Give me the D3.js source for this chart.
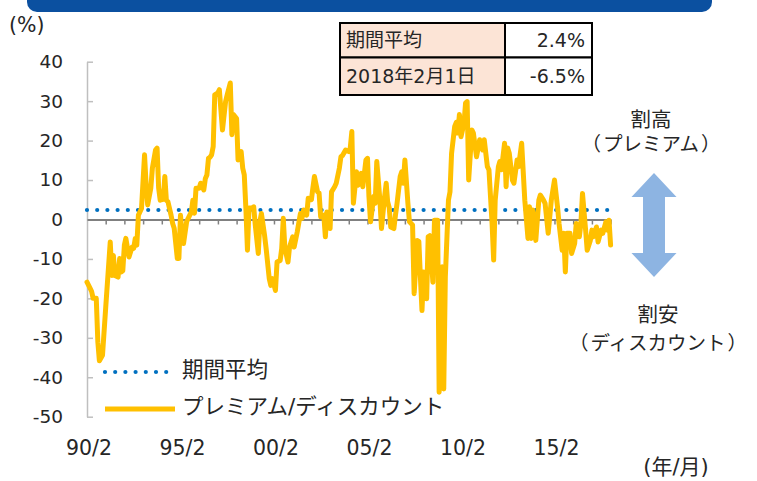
<!DOCTYPE html>
<html><head><meta charset="utf-8">
<script src="https://cdn.jsdelivr.net/npm/d3@7"></script>
<style>
body{margin:0;background:#fff}
svg{display:block}
text{font-family:"DejaVu Sans","Noto Sans CJK JP",sans-serif;fill:#262626}
</style>
</head><body><div id="chart"></div>
<script>
// months elapsed since Feb 1990 for each vertex
const monthOffsets = [
0,2,3,4,6,7,8,10,12,15,
16,17,18,20,21,22,23,24,25,27,
29,30,31,32,33,35,37,38,39,41,
42,44,45,46,47,49,50,51,52,54,
55,56,58,59,60,61,62,64,65,67,
68,69,70,72,73,75,76,77,78,79,
80,81,82,84,85,87,89,90,92,93,
94,96,97,99,100,101,102,103,104,106,
107,108,110,111,112,114,115,117,118,119,
121,122,124,125,126,127,129,130,132,133,
135,137,138,139,141,142,144,145,146,148,
149,150,152,153,154,156,157,159,160,162,
163,164,166,168,169,170,171,173,174,176,
177,179,180,181,182,184,185,186,188,189,
191,192,193,194,195,197,198,199,201,202,
203,204,206,207,209,210,212,213,214,215,
216,218,219,220,222,223,225,226,228,229,
230,232,233,234,236,237,238,239,240,242,
243,244,245,247,248,250,252,254,255,257,
258,260,261,262,264,265,266,268,269,270,
271,273,274,276,277,279,281,283,284,285,
286,288,290,291,293,294,296,298,300,302,
303,305,306,307,308,310,311,313,314,316,
317,318,320,321,323,324,325,327,328,330,
331,333,334,335,336];
// premium / discount (%)
const premium = [
-15.9,-17.4,-18.2,-20.0,-20.0,-31.1,-35.8,-34.4,-22.4,-5.7,
-14.2,-9.1,-14.2,-14.6,-9.9,-13.3,-13.0,-6.5,-4.8,-9.5,
-7.0,-7.3,-4.8,-6.5,1.1,2.8,16.4,8.7,3.7,7.9,
13.0,17.6,18.1,8.0,4.9,5.1,10.9,4.9,4.5,1.1,
-1.0,-2.2,-9.9,-9.9,1.1,-3.1,-6.1,-0.6,0.3,1.9,
4.9,1.6,7.9,7.9,9.2,7.5,10.4,11.3,15.5,15.8,
16.4,18.5,31.6,32.1,32.9,22.7,29.9,31.6,34.6,21.5,
26.6,25.6,15.1,17.2,13.0,11.3,2.9,-7.8,2.9,2.9,
3.2,-1.4,-8.6,-0.6,1.5,-4.0,-7.4,-15.0,-16.7,-15.0,
-18.0,-10.8,-10.4,-7.4,0.3,-7.3,-10.8,-7.0,-4.4,-7.0,
-3.1,1.5,0.3,2.4,1.1,5.4,5.0,7.9,10.9,7.0,
6.7,0.7,1.1,-4.4,1.9,-2.3,7.0,8.3,9.2,13.0,
15.9,16.2,17.6,17.2,18.1,22.3,4.1,12.1,8.7,11.7,
8.3,15.1,15.5,5.8,-0.6,5.8,4.1,14.7,4.9,-2.3,
5.8,9.2,4.5,3.0,-1.9,-2.3,1.1,4.1,10.9,12.1,
9.2,15.1,4.1,-0.6,-1.4,-18.8,-5.3,-5.6,-14.6,-23.1,
-13.3,-20.1,-4.4,-4.1,-15.9,-0.2,-0.2,-43.8,-12.0,-43.0,
-14.6,4.9,7.0,16.8,23.6,24.6,21.9,26.6,21.0,24.4,
29.5,29.9,10.0,22.7,21.9,15.9,20.2,17.6,20.2,13.4,
12.6,-1.0,-10.3,4.9,13.4,14.7,12.6,19.3,8.3,18.1,
16.8,10.0,9.2,15.1,13.4,19.3,4.9,-4.8,3.2,-4.8,
2.4,-5.3,4.9,6.2,4.9,4.1,-3.5,4.9,10.0,3.2,
-1.0,-7.8,-3.5,-13.3,-3.5,-3.5,-8.6,-6.1,-1.0,-4.4,
-1.0,6.6,-2.7,-7.8,-5.3,-2.7,-4.4,-1.9,-5.7,-2.7,
-3.5,-0.6,-2.7,-0.2,-6.5];
const periodAverage = 2.4;
const yTickValues = [40,30,20,10,0,-10,-20,-30,-40,-50];
const xLabelYears = [1990,1995,2000,2005,2010,2015];
const xLabels = ["90/2","95/2","00/2","05/2","10/2","15/2"];
const tableLabels = ["期間平均","2018年2月1日"];
const tableValues = ["2.4%","-6.5%"];
const legendLabels = ["期間平均","プレミアム/ディスカウント"];

const W = 757, H = 481;
const svg = d3.select("#chart").append("svg").attr("width", W).attr("height", H);
svg.append("rect").attr("width", W).attr("height", H).attr("fill", "#fff");

const startDate = new Date(1990, 1, 1), endDate = new Date(2018, 1, 1);
const x = d3.scaleTime().domain([startDate, endDate]).range([87, 610.6]);
const y = d3.scaleLinear().domain([-50, 40]).range([416.7, 61.7]);

// banner
svg.append("rect").attr("x", 27).attr("y", -20).attr("width", 685).attr("height", 32)
  .attr("rx", 10).attr("fill", "#0B50A0");

// (%)
svg.append("text").attr("x", 9).attr("y", 32).attr("font-size", 20.5).text("(%)");

// y axis
const yAxis = d3.axisLeft(y).tickValues(yTickValues).tickSize(-6).tickPadding(24).tickSizeOuter(0)
  .tickFormat(d => String(d));
const gy = svg.append("g").attr("transform", "translate(87,0)").call(yAxis);
gy.select(".domain").attr("stroke", "#BFBFBF").attr("stroke-width", 1.5);
gy.selectAll(".tick line").attr("stroke", "#BFBFBF").attr("stroke-width", 1.5);
gy.selectAll(".tick text").attr("font-size", 18.5).attr("fill", "#262626")
  .attr("font-family", '"DejaVu Sans",sans-serif');

// x axis on zero line
const yearTicks = d3.range(1991, 2019).map(yr => new Date(yr, 1, 1));
const xAxis = d3.axisBottom(x).tickValues(yearTicks).tickSize(5).tickSizeOuter(0).tickFormat("");
const gx = svg.append("g").attr("transform", `translate(0,${y(0)})`).call(xAxis);
gx.select(".domain").attr("stroke", "#808080").attr("stroke-width", 2);
gx.selectAll(".tick line").attr("stroke", "#808080").attr("stroke-width", 1.5);

// x labels
svg.append("g").selectAll("text").data(xLabelYears).join("text")
  .attr("x", (d) => x(new Date(d, 1, 1)) + 2).attr("y", 455)
  .attr("text-anchor", "middle").attr("font-size", 20.5)
  .text((d, i) => xLabels[i]);
svg.append("text").attr("x", 676).attr("y", 474).attr("text-anchor", "middle")
  .attr("font-size", 21).text("(年/月)");

// average line
svg.append("line").attr("x1", x(startDate)).attr("x2", x(endDate))
  .attr("y1", y(periodAverage)).attr("y2", y(periodAverage))
  .attr("stroke", "#0070C0").attr("stroke-width", 4.2).attr("stroke-linecap", "round")
  .attr("stroke-dasharray", "0,10.2");

// premium line
const pts = monthOffsets.map((m, i) => ({ date: new Date(1990, 1 + m, 1), v: premium[i] }));
svg.append("path").datum(pts)
  .attr("d", d3.line().x(d => x(d.date)).y(d => y(d.v)))
  .attr("fill", "none").attr("stroke", "#FFC000").attr("stroke-width", 5)
  .attr("stroke-linejoin", "round").attr("stroke-linecap", "round");

// legend
svg.append("line").attr("x1", 105).attr("x2", 172).attr("y1", 372).attr("y2", 372)
  .attr("stroke", "#0070C0").attr("stroke-width", 4.2).attr("stroke-linecap", "round")
  .attr("stroke-dasharray", "0,10.2");
svg.append("line").attr("x1", 105).attr("x2", 175).attr("y1", 409).attr("y2", 409)
  .attr("stroke", "#FFC000").attr("stroke-width", 5);
svg.append("text").attr("x", 182).attr("y", 377).attr("font-size", 21.5).text(legendLabels[0]);
svg.append("text").attr("x", 182).attr("y", 414).attr("font-size", 21.5).text(legendLabels[1]);

// table
const rowsY = [23, 57.5, 95];
tableLabels.forEach((lab, i) => {
  svg.append("rect").attr("x", 340).attr("y", rowsY[i]).attr("width", 165)
    .attr("height", rowsY[i + 1] - rowsY[i]).attr("fill", "#FCE4D6").attr("stroke", "#000").attr("stroke-width", 2);
  svg.append("rect").attr("x", 505).attr("y", rowsY[i]).attr("width", 87)
    .attr("height", rowsY[i + 1] - rowsY[i]).attr("fill", "#fff").attr("stroke", "#000").attr("stroke-width", 2);
  const cy = (rowsY[i] + rowsY[i + 1]) / 2 + 7;
  svg.append("text").attr("x", 346).attr("y", cy).attr("font-size", 19).text(lab);
  svg.append("text").attr("x", 585).attr("y", cy).attr("font-size", 19).attr("text-anchor", "end").text(tableValues[i]);
});

// annotations
function bracketed(tx, ty, inner) {
  const t = svg.append("text").attr("x", tx).attr("y", ty).attr("text-anchor", "middle").attr("font-size", 19.5);
  t.append("tspan").text("（");
  t.append("tspan").attr("dx", 2).text(inner);
  t.append("tspan").attr("dx", 2).text("）");
}
svg.append("text").attr("x", 651).attr("y", 127).attr("text-anchor", "middle").attr("font-size", 20.5).text("割高");
bracketed(651, 151, "プレミアム");
svg.append("text").attr("x", 658).attr("y", 322).attr("text-anchor", "middle").attr("font-size", 20.5).text("割安");
bracketed(658, 350, "ディスカウント");

// double arrow
const arrowX = 654, arrowTop = 173, arrowBot = 277, headHalf = 22.5, shaftHalf = 11, headH = 24;
svg.append("polygon").attr("points", [
  [arrowX, arrowTop], [arrowX + headHalf, arrowTop + headH], [arrowX + shaftHalf, arrowTop + headH],
  [arrowX + shaftHalf, arrowBot - headH], [arrowX + headHalf, arrowBot - headH],
  [arrowX, arrowBot], [arrowX - headHalf, arrowBot - headH], [arrowX - shaftHalf, arrowBot - headH],
  [arrowX - shaftHalf, arrowTop + headH], [arrowX - headHalf, arrowTop + headH]
].map(p => p.join(",")).join(" ")).attr("fill", "#8DB4E2");
</script>
</body></html>
